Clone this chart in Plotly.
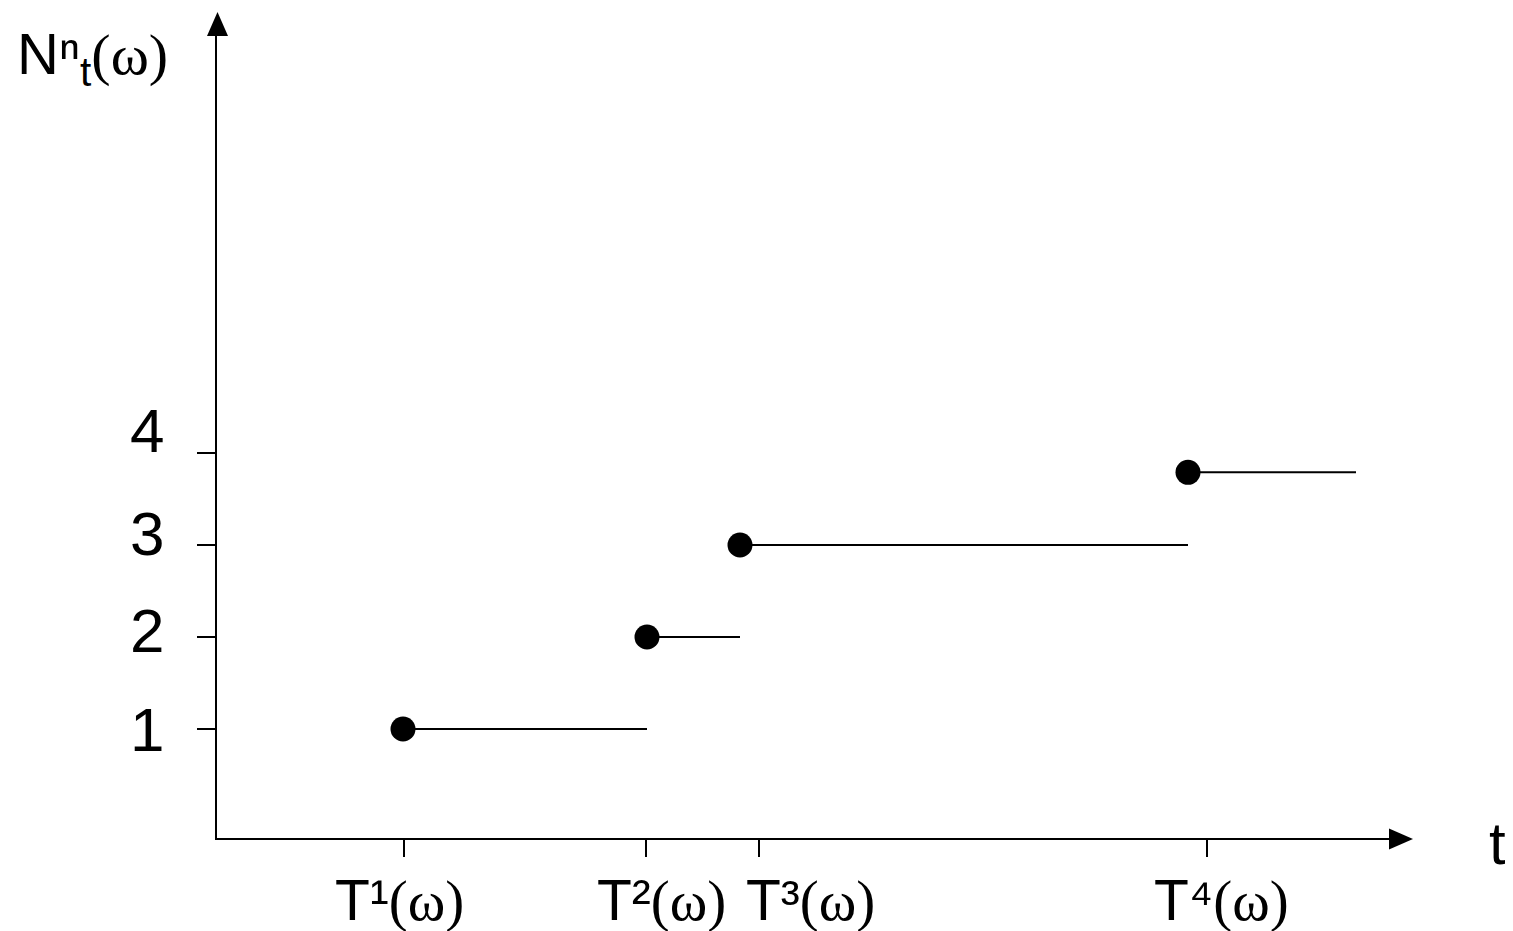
import plotly.graph_objects as go

# ---- data ----
jump_times = [1.86, 4.30, 5.23, 9.71]      # dot positions (t where the count jumps)
levels = [1, 2, 3, 3.79]                   # count level after each jump
end_time = 11.39                           # end of last horizontal segment
xtick_vals = [1.87, 4.29, 5.42, 9.90]
xtick_labels = ["T¹", "T²", "T³", "T⁴"]
xlabel_x = [1.82, 4.44, 5.93, 10.04]
ytick_vals = [1, 2, 3, 4]
ytick_labels = ["1", "2", "3", "4"]
ylabel_y = [0.99, 2.07, 3.13, 4.25]

OFF = 8                       # page body margin of the html page
W, H = 1513 - OFF, 931 - OFF
# plot area in page pixels: x 217..1400, y 20..838
L = 217 - OFF
R = W - (1400 - OFF)
T = 20 - OFF
B = H - (838 - OFF)
pw, ph = W - L - R, H - T - B
X0, X1 = 0.0, pw / 100.0
Y0, Y1 = -17 / 92.0, (821 - 20) / 92.0


def px_to_paper_x(px):
    return (px - 217) / pw


def px_to_paper_y(py):
    return (838 - py) / ph


fig = go.Figure()

ends = jump_times[1:] + [end_time]
for t0, t1, lv in zip(jump_times, ends, levels):
    fig.add_trace(go.Scatter(x=[t0, t1], y=[lv, lv], mode="lines",
                             line=dict(color="black", width=2), showlegend=False,
                             hoverinfo="skip"))
fig.add_trace(go.Scatter(x=jump_times, y=levels, mode="markers",
                         marker=dict(color="black", size=25), showlegend=False))

serif = "Liberation Serif"
sans = "Liberation Sans"
ann = []
for xv, lab in zip(xlabel_x, xtick_labels):
    ann.append(dict(x=xv, y=px_to_paper_y(900), xref="x", yref="paper",
                    text=lab + '<span style="font-family:%s">(ω)</span>' % serif,
                    showarrow=False, font=dict(family=sans, size=57, color="black"),
                    xanchor="center", yanchor="middle"))
for yv, lab in zip(ylabel_y, ytick_labels):
    ann.append(dict(x=px_to_paper_x(147), y=yv, xref="paper", yref="y",
                    text=lab, showarrow=False,
                    font=dict(family=sans, size=62, color="black"),
                    xanchor="center", yanchor="middle"))
ann.append(dict(x=px_to_paper_x(92), y=px_to_paper_y(58), xref="paper", yref="paper",
                text='Nⁿ<sub>t</sub><span style="font-family:%s">(ω)</span>' % serif,
                showarrow=False, font=dict(family=sans, size=58, color="black"),
                xanchor="center", yanchor="middle"))
ann.append(dict(x=px_to_paper_x(1497), y=px_to_paper_y(843), xref="paper", yref="paper",
                text="t", showarrow=False, font=dict(family=sans, size=60, color="black"),
                xanchor="center", yanchor="middle"))

shapes = [
    dict(type="path", xref="paper", yref="paper", fillcolor="black", line=dict(width=0),
         path="M %f %f L %f %f L %f %f Z" % (
             px_to_paper_x(217.5), px_to_paper_y(12),
             px_to_paper_x(207), px_to_paper_y(36),
             px_to_paper_x(228), px_to_paper_y(36))),
    dict(type="path", xref="paper", yref="paper", fillcolor="black", line=dict(width=0),
         path="M %f %f L %f %f L %f %f Z" % (
             px_to_paper_x(1413), px_to_paper_y(839),
             px_to_paper_x(1389), px_to_paper_y(828.5),
             px_to_paper_x(1389), px_to_paper_y(849.5))),
]

fig.update_layout(
    width=W, height=H, margin=dict(l=L, r=R, t=T, b=B, pad=0),
    paper_bgcolor="white", plot_bgcolor="white",
    annotations=ann, shapes=shapes, showlegend=False,
    xaxis=dict(range=[X0, X1], showgrid=False, zeroline=False, showline=True,
               linecolor="black", linewidth=2, ticks="outside", ticklen=17,
               tickwidth=1.5, tickcolor="black", tickvals=xtick_vals,
               showticklabels=False, fixedrange=True),
    yaxis=dict(range=[Y0, Y1], showgrid=False, zeroline=False, showline=True,
               linecolor="black", linewidth=2, ticks="outside", ticklen=18,
               tickwidth=1.5, tickcolor="black", tickvals=ytick_vals,
               showticklabels=False, fixedrange=True),
)

fig.write_html("out.html", config={"displayModeBar": False})
